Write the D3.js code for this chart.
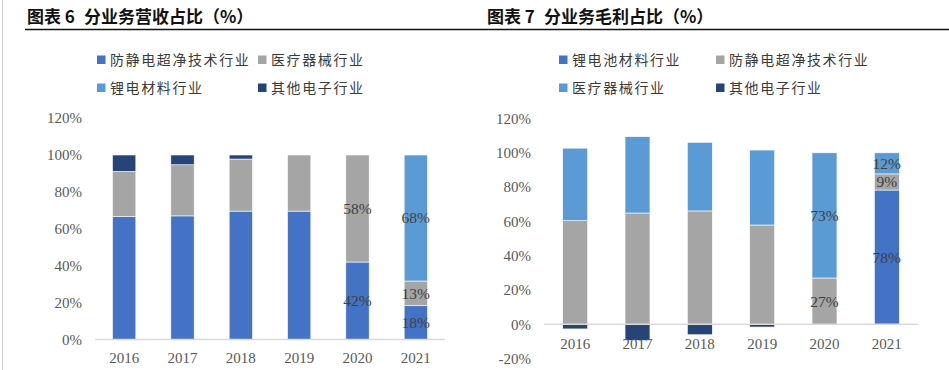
<!DOCTYPE html>
<html>
<head>
<meta charset="utf-8">
<script src="https://cdn.jsdelivr.net/npm/d3@7"></script>
<style>
  html, body { margin: 0; padding: 0; background: #fff; }
  svg { display: block; }
</style>
</head>
<body>
<svg id="chart" width="949" height="370"></svg>
<script>
// ---------------- DATA ----------------
const years = ["2016", "2017", "2018", "2019", "2020", "2021"];

// Chart 6: revenue share
const revTitleNo = "图表 6";
const revTitle = "分业务营收占比（%）";
const revSeriesNames = ["防静电超净技术行业", "医疗器械行业", "锂电材料行业", "其他电子行业"];
const revAntiStatic = [0.666, 0.670, 0.696, 0.696, 0.420, 0.183];
const revMedical    = [0.245, 0.277, 0.282, 0.304, 0.580, 0.134];
const revLithium    = [0, 0, 0, 0, 0, 0.683];
const revOther      = [0.089, 0.053, 0.022, 0, 0, 0];
const revTicks = [0, 0.2, 0.4, 0.6, 0.8, 1.0, 1.2];

// Chart 7: gross-profit share
const gpTitleNo = "图表 7";
const gpTitle = "分业务毛利占比（%）";
const gpSeriesNames = ["锂电池材料行业", "防静电超净技术行业", "医疗器械行业", "其他电子行业"];
const gpLithium    = [0, 0, 0, 0, 0, 0.783];
const gpAntiStatic = [0.604, 0.649, 0.661, 0.579, 0.270, 0.094];
const gpMedical    = [0.423, 0.445, 0.400, 0.437, 0.730, 0.123];
const gpOther      = [-0.027, -0.094, -0.061, -0.016, 0, 0];
const gpTicks = [-0.2, 0, 0.2, 0.4, 0.6, 0.8, 1.0, 1.2];

const labelYears = ["2020", "2021"];

// ---------------- STYLE ----------------
const C_BLUE = "#4472C4", C_GREY = "#A5A5A5", C_LIGHT = "#5B9BD5", C_NAVY = "#264478";
const serif = "'Liberation Serif', 'DejaVu Serif', serif";
const cjk = "'Noto Sans CJK SC', 'Noto Sans', sans-serif";

const svg = d3.select("#chart");

// frame line at left & title rule
svg.append("line").attr("x1", 2.5).attr("x2", 2.5).attr("y1", 0).attr("y2", 370)
  .attr("stroke", "#d0d0d0").attr("stroke-width", 1);
svg.append("line").attr("x1", 25).attr("x2", 949).attr("y1", 29.5).attr("y2", 29.5)
  .attr("stroke", "#111").attr("stroke-width", 1.5);

function title(x, no, text) {
  svg.append("text").attr("x", x).attr("y", 23)
    .attr("font-family", cjk).attr("font-weight", "bold").attr("font-size", 17)
    .attr("fill", "#111").text(no);
  svg.append("text").attr("x", x + 57).attr("y", 23)
    .attr("font-family", cjk).attr("font-weight", "bold").attr("font-size", 17)
    .attr("fill", "#111").text(text);
}
title(27, revTitleNo, revTitle);
title(487, gpTitleNo, gpTitle);

function legend(items, positions) {
  items.forEach((it, i) => {
    const p = positions[i];
    svg.append("rect").attr("x", p[0]).attr("y", p[1] - 4.5).attr("width", 8.5).attr("height", 8.5)
      .attr("fill", it.color);
    svg.append("text").attr("x", p[0] + 13).attr("y", p[1] + 5)
      .attr("font-family", cjk).attr("font-size", 14).attr("letter-spacing", 1.6)
      .attr("fill", "#3a3a3a").text(it.name);
  });
}

function drawChart(cfg) {
  const x = d3.scaleBand().domain(years).range(cfg.xRange).paddingInner(0.6).paddingOuter(0.3);
  const y = d3.scaleLinear().domain(cfg.yDomain).range(cfg.yRange);
  const g = svg.append("g");

  // y tick labels
  const yAxis = d3.axisLeft(y).tickValues(cfg.ticks).tickSize(0).tickPadding(0)
    .tickFormat(d => Math.round(d * 100) + "%");
  const ya = g.append("g").attr("transform", `translate(${cfg.yLabelX},0)`).call(yAxis);
  ya.select(".domain").remove();
  ya.selectAll("text").attr("font-family", serif).attr("font-size", 15).attr("fill", "#595959");

  // stacked data
  const rows = years.map((yr, i) => {
    const o = { year: yr };
    cfg.series.forEach(s => o[s.key] = s.values[i]);
    return o;
  });
  const stack = d3.stack().keys(cfg.series.map(s => s.key)).offset(d3.stackOffsetDiverging);
  const stacked = stack(rows);

  stacked.forEach((layer, li) => {
    const s = cfg.series[li];
    g.append("g").selectAll("rect").data(layer).join("rect")
      .attr("x", d => x(d.data.year))
      .attr("width", x.bandwidth())
      .attr("y", d => y(Math.max(d[0], d[1])))
      .attr("height", d => Math.abs(y(d[0]) - y(d[1])))
      .attr("fill", s.color)
      .attr("stroke", "#fff").attr("stroke-width", 0.6);
  });

  // x axis line
  const xa = d3.axisBottom(x).tickSize(0).tickPadding(0);
  const xg = g.append("g").attr("transform", `translate(0,${y(0)})`).call(xa);
  xg.select(".domain").attr("stroke", "#d9d9d9").attr("stroke-width", 1.5)
    .attr("d", `M${cfg.xRange[0]},0H${cfg.xRange[1]}`);
  xg.selectAll("text").attr("font-family", serif).attr("font-size", 15).attr("fill", "#595959")
    .attr("dy", 0).attr("y", cfg.yearBaseline - y(0));

  // data labels
  stacked.forEach((layer) => {
    g.append("g").selectAll("text")
      .data(layer.filter(d => labelYears.includes(d.data.year) && (d[1] - d[0]) > 0.001))
      .join("text")
      .attr("x", d => x(d.data.year) + x.bandwidth() / 2)
      .attr("y", d => y((d[0] + d[1]) / 2))
      .attr("dy", "0.35em")
      .attr("text-anchor", "middle")
      .attr("font-family", serif).attr("font-size", 15.5).attr("fill", "#404040")
      .text(d => Math.round((d[1] - d[0]) * 100) + "%");
  });
}

drawChart({
  xRange: [95, 445],
  yDomain: [0, 1.2],
  yRange: [339.5, 118.1],
  ticks: revTicks,
  yLabelX: 82,
  yearBaseline: 363,
  series: [
    { key: "a", values: revAntiStatic, color: C_BLUE },
    { key: "b", values: revMedical, color: C_GREY },
    { key: "c", values: revLithium, color: C_LIGHT },
    { key: "d", values: revOther, color: C_NAVY }
  ]
});
drawChart({
  xRange: [544, 918],
  yDomain: [-0.2, 1.2],
  yRange: [358.6, 118.5],
  ticks: gpTicks,
  yLabelX: 531,
  yearBaseline: 349,
  series: [
    { key: "a", values: gpLithium, color: C_BLUE },
    { key: "b", values: gpAntiStatic, color: C_GREY },
    { key: "c", values: gpMedical, color: C_LIGHT },
    { key: "d", values: gpOther, color: C_NAVY }
  ]
});

legend([
  { name: revSeriesNames[0], color: C_BLUE },
  { name: revSeriesNames[1], color: C_GREY },
  { name: revSeriesNames[2], color: C_LIGHT },
  { name: revSeriesNames[3], color: C_NAVY }
], [[97, 60], [258, 60], [97, 88], [258, 88]]);
legend([
  { name: gpSeriesNames[0], color: C_BLUE },
  { name: gpSeriesNames[1], color: C_GREY },
  { name: gpSeriesNames[2], color: C_LIGHT },
  { name: gpSeriesNames[3], color: C_NAVY }
], [[559, 60], [716, 60], [559, 88], [716, 88]]);
</script>
</body>
</html>
